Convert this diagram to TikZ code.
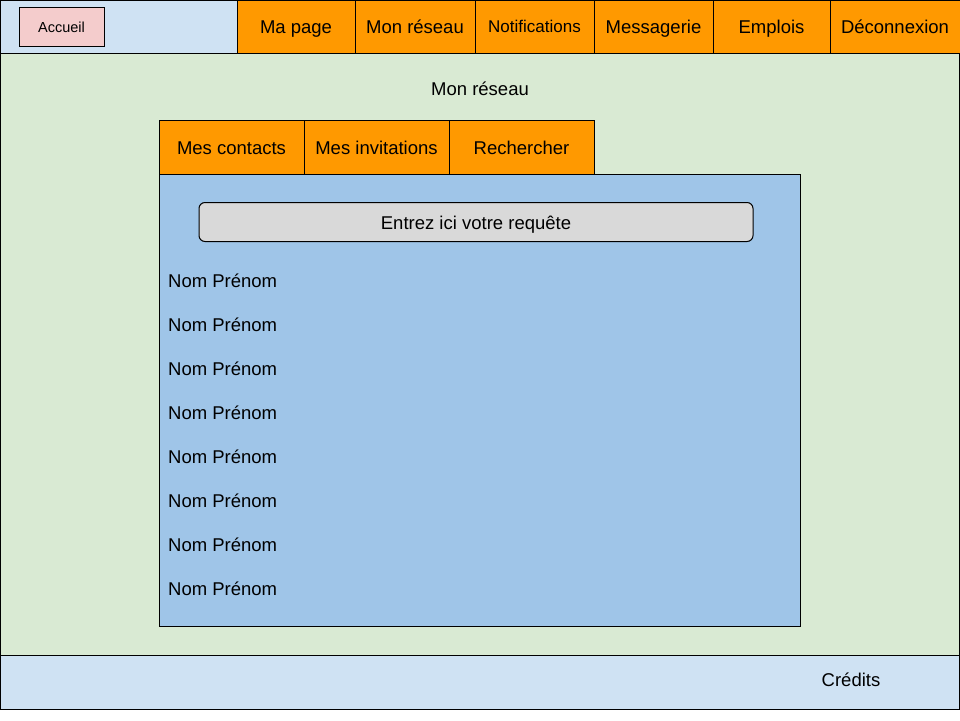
\documentclass[tikz,border=0pt]{standalone}
\usepackage{fontspec}
\setmainfont{Liberation Sans}
\definecolor{hdrblue}{HTML}{CFE2F3}
\definecolor{tabor}{HTML}{FF9900}
\definecolor{mainbg}{HTML}{D9EAD3}
\definecolor{panelblue}{HTML}{9FC5E8}
\definecolor{pinkbtn}{HTML}{F4CCCC}
\definecolor{searchgray}{HTML}{D9D9D9}
\tikzset{
  px/.style={x=1pt,y=-1pt},
  box/.style={draw=black,line width=1pt},
  tabtxt/.style={font=\fontsize{18.5}{20}\selectfont,text=black,text height=15.5pt,text depth=1.5pt},
  nametxt/.style={font=\fontsize{18.5}{20}\selectfont,anchor=west,inner sep=0pt,text height=15.5pt,text depth=1.5pt},
}
\begin{document}
\begin{tikzpicture}[px]
\useasboundingbox (0,0) rectangle (960,720);
\fill[white] (0,0) rectangle (960,720);
% main area
\filldraw[box,fill=mainbg] (0.5,53) rectangle (959.5,655);
% header left
\filldraw[box,fill=hdrblue] (0.5,0.5) rectangle (237,53);
\node[box,fill=pinkbtn,minimum width=85pt,minimum height=39pt,inner sep=0pt,font=\fontsize{14.5}{16}\selectfont,text height=12.4pt,text depth=1pt] (accueil) at (61.5,26.5) {Accueil};
% orange tabs
\node[box,fill=tabor,minimum width=118pt,minimum height=52.5pt,inner sep=0pt,tabtxt] (mapage) at (296,26.75) {Ma page};
\node[box,fill=tabor,minimum width=120pt,minimum height=52.5pt,inner sep=0pt,tabtxt] (monreseau) at (415,26.75) {Mon réseau};
\node[box,fill=tabor,minimum width=119pt,minimum height=52.5pt,inner sep=0pt,font=\fontsize{17}{19}\selectfont,text height=14pt,text depth=1.8pt] (notif) at (534.5,26.75) {Notifications};
\node[box,fill=tabor,minimum width=119pt,minimum height=52.5pt,inner sep=0pt,tabtxt] (messag) at (653.5,26.75) {Messagerie};
\node[box,fill=tabor,minimum width=117pt,minimum height=52.5pt,inner sep=0pt,tabtxt] (emplois) at (771.5,26.75) {Emplois};
\node[box,fill=tabor,minimum width=130pt,minimum height=52.5pt,inner sep=0pt,tabtxt] (deco) at (895,26.75) {Déconnexion};
% title
\node[tabtxt,inner sep=0pt] (title) at (480,88) {Mon réseau};
% sub tabs
\node[box,fill=tabor,minimum width=145pt,minimum height=54pt,inner sep=0pt,tabtxt] (contacts) at (231.5,147.5) {Mes contacts};
\node[box,fill=tabor,minimum width=145pt,minimum height=54pt,inner sep=0pt,tabtxt] (invit) at (376.5,147.5) {Mes invitations};
\node[box,fill=tabor,minimum width=145pt,minimum height=54pt,inner sep=0pt,tabtxt] (recherch) at (521.5,147.5) {Rechercher};
% panel
\filldraw[box,fill=panelblue] (159,174.5) rectangle (800.5,626.5);
\node[box,fill=searchgray,rounded corners=6pt,minimum width=554pt,minimum height=39pt,inner sep=0pt,tabtxt] (search) at (476,222) {Entrez ici votre requête};
% names
\foreach \i in {0,...,7}{
  \node[nametxt] (nom\i) at (168,{280+44*\i}) {Nom Prénom};
}
% footer
\filldraw[box,fill=hdrblue] (0.5,655) rectangle (959.5,709);
\node[tabtxt,inner sep=0pt] (credits) at (851,679) {Crédits};
\end{tikzpicture}
\end{document}
